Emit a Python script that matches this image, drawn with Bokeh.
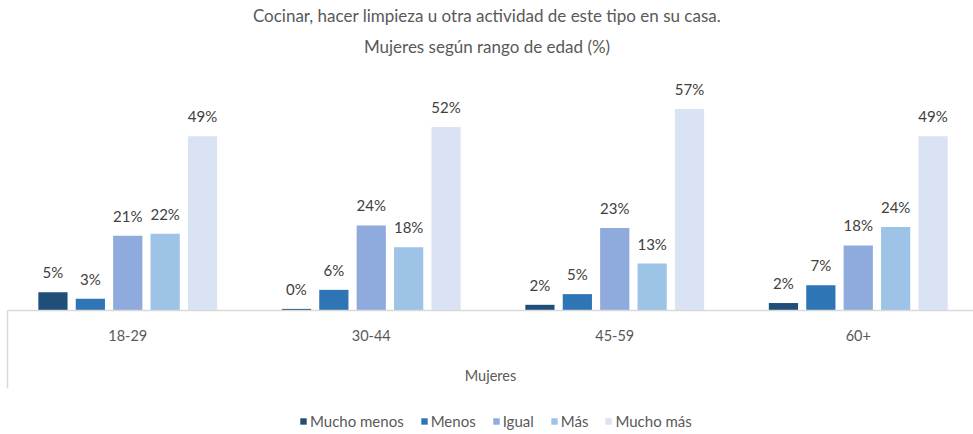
from bokeh.plotting import figure
from bokeh.models import ColumnDataSource, Title, Legend, LegendItem, LabelSet, FixedTicker
from bokeh.core.properties import value
from bokeh.embed import file_html
from bokeh.resources import INLINE
import numpy as np

groups = ["18-29", "30-44", "45-59", "60+"]
series = ["Mucho menos", "Menos", "Igual", "Más", "Mucho más"]
mucho_menos = [5.1, 0.45, 1.6, 2.1]
menos = [3.3, 5.8, 4.6, 7.1]
igual = [21.0, 23.9, 23.2, 18.3]
mas = [21.6, 17.8, 13.2, 23.5]
mucho_mas = [49.0, 51.6, 56.6, 49.0]
title1 = "Cocinar, hacer limpieza u otra actividad de este tipo en su casa."
title2 = "Mujeres según rango de edad (%)"
axis_title = "Mujeres"

values = [mucho_menos, menos, igual, mas, mucho_mas]
colors = ["#1F4E79", "#2E75B6", "#8FAADC", "#9DC3E6", "#DAE3F3"]
FONT = "Lato"
TXT = "#595959"

PX = 3.53        # pixels per percent
UNIT = 243.5     # pixels per category
W, H = 973, 434
base_y = 311
top_frame = 64
x0 = -5.5 / UNIT
x1 = x0 + W / UNIT
y_end = (base_y - top_frame) / PX
y_start = -(H - base_y) / PX

p = figure(width=W, height=H, x_range=(x0, x1), y_range=(y_start, y_end),
           output_backend="svg", toolbar_location=None,
           min_border_left=0, min_border_right=0, min_border_bottom=0, min_border_top=0,
           outline_line_color=None, title=title1)
p.title.align = "center"
p.title.text_font = FONT
p.title.text_font_size = "17px"
p.title.text_font_style = "normal"
p.title.text_color = TXT
p.title.standoff = 5
p.add_layout(Title(text=title2, align="center", text_font=FONT, text_font_size="17px",
                   text_font_style="normal", text_color=TXT), "above")

p.xgrid.visible = False
p.ygrid.visible = False

centers = np.arange(len(groups)) + 0.5
step = 0.1536
items = []
for i, (name, vals, col) in enumerate(zip(series, values, colors)):
    src = ColumnDataSource(dict(x=centers + (i - 2) * step, top=vals,
                                lab=["%d%%" % round(v) for v in vals]))
    r = p.vbar(x="x", top="top", bottom=0, width=0.12, source=src,
               fill_color=col, line_color=None)
    items.append(LegendItem(label=name, renderers=[r]))
    p.add_layout(LabelSet(x="x", y="top", text="lab", source=src, text_align="center",
                          text_baseline="alphabetic", y_offset=14, text_font=value(FONT),
                          text_font_size=value("15px"), text_color="#404040"))

xa = p.xaxis[0]
xa.fixed_location = 0
xa.bounds = (0.006, x1)
xa.ticker = FixedTicker(ticks=list(centers))
xa.major_label_overrides = {float(c): g for c, g in zip(centers, groups)}
xa.axis_line_color = "#D9D9D9"
xa.axis_line_width = 1.5
xa.major_tick_out = 0
xa.major_tick_in = 0
xa.minor_tick_out = 0
xa.minor_tick_in = 0
xa.major_label_standoff = 19
xa.major_label_text_font = FONT
xa.major_label_text_font_size = "14.5px"
xa.major_label_text_color = TXT
xa.axis_label = axis_title
xa.axis_label_standoff = 23
xa.axis_label_text_font = FONT
xa.axis_label_text_font_size = "14.5px"
xa.axis_label_text_font_style = "normal"
xa.axis_label_text_color = TXT

ya = p.yaxis[0]
ya.fixed_location = 0.006
ya.bounds = (-77 / PX, 0)
ya.ticker = FixedTicker(ticks=[])
ya.axis_line_color = "#D9D9D9"
ya.axis_line_width = 1.5
ya.major_tick_out = 0
ya.major_tick_in = 0
ya.minor_tick_out = 0
ya.minor_tick_in = 0

legend = Legend(items=items, orientation="horizontal", location=(297, 2),
                label_text_font=FONT, label_text_font_size="15px", label_text_color=TXT,
                glyph_width=8, glyph_height=8, label_standoff=3, spacing=16,
                background_fill_alpha=0, border_line_alpha=0, padding=2, margin=0)
p.add_layout(legend)

open("out.html", "w").write(file_html(p, INLINE))
